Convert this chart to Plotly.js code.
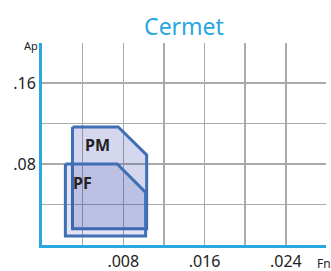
<!DOCTYPE html>
<html><head><meta charset="utf-8">
<script src="https://cdn.plot.ly/plotly-3.0.1.min.js"></script>
<style>html,body{margin:0;padding:0;background:#fff}#c{width:331px;height:271px}</style>
</head><body><div id="c"></div>
<script>
const pmX = [0.0030, 0.0075, 0.0103, 0.0103, 0.0030, 0.0030];
const pmY = [0.1165, 0.1165, 0.0890, 0.0160, 0.0160, 0.1165];
const pfX = [0.0023, 0.0074, 0.0102, 0.0102, 0.0023, 0.0023];
const pfY = [0.0800, 0.0800, 0.0520, 0.0090, 0.0090, 0.0800];
const xTicks = [0.008, 0.016, 0.024];
const xTickText = ['.008', '.016', '.024'];
const yTicks = [0.08, 0.16];
const yTickText = ['.08', '.16'];
const regionLabels = ['PM', 'PF'];
const labelX = [0.0055, 0.0040];
const labelY = [0.0990, 0.0615];

const lineCol = 'rgb(63,111,181)';
const traces = [
  {x: pmX, y: pmY, type: 'scatter', mode: 'lines', fill: 'toself', fillcolor: 'rgba(40,55,165,0.2)',
   line: {color: lineCol, width: 3}, hoverinfo: 'skip'},
  {x: pfX, y: pfY, type: 'scatter', mode: 'lines', fill: 'toself', fillcolor: 'rgba(40,55,165,0.14)',
   line: {color: lineCol, width: 3}, hoverinfo: 'skip'}
];
const font = 'Noto Sans, Open Sans, sans-serif';
const blue = '#29a8e0';
const annotations = regionLabels.map((t, i) => ({
  x: labelX[i], y: labelY[i], xref: 'x', yref: 'y', text: '<b>' + t + '</b>',
  showarrow: false, font: {family: font, size: 16, color: '#222'}
}));
annotations.push({x: -0.04, y: 1, xref: 'paper', yref: 'paper', text: 'Ap', showarrow: false,
  xanchor: 'center', yanchor: 'middle', yshift: -2,
  font: {family: font, size: 11, color: '#222'}});
annotations.push({x: 1.0, y: 0, xref: 'paper', yref: 'paper', text: 'Fn', showarrow: false,
  xanchor: 'left', yanchor: 'middle', xshift: -11, yshift: -18,
  font: {family: font, size: 12, color: '#222'}});

const layout = {
  width: 331, height: 271,
  margin: {l: 42, r: 5, t: 43, b: 26},
  paper_bgcolor: '#fff', plot_bgcolor: '#fff',
  showlegend: false,
  title: {text: 'Cermet', x: 0.5, xref: 'paper', y: 0.9, yref: 'container', yanchor: 'middle',
          font: {family: font, size: 23, color: blue}},
  xaxis: {range: [0, 0.02795], tickvals: xTicks, ticktext: xTickText, showgrid: true,
          gridcolor: '#aaa', gridwidth: 1.5, zeroline: false,
          showline: true, linecolor: blue, linewidth: 3, ticks: '',
          tickfont: {family: font, size: 16, color: '#222'},
          minor: {dtick: 0.004, tick0: 0, showgrid: true, gridcolor: '#aaa', gridwidth: 1.5},
          fixedrange: true},
  yaxis: {range: [0, 0.1995], tickvals: yTicks, ticktext: yTickText, showgrid: true,
          gridcolor: '#aaa', gridwidth: 1.5, zeroline: false,
          showline: true, linecolor: blue, linewidth: 3, ticks: '',
          tickfont: {family: font, size: 16, color: '#222'},
          minor: {dtick: 0.04, tick0: 0, showgrid: true, gridcolor: '#aaa', gridwidth: 1.5},
          fixedrange: true},
  annotations: annotations
};
Plotly.newPlot('c', traces, layout, {displayModeBar: false, staticPlot: true});
</script></body></html>
